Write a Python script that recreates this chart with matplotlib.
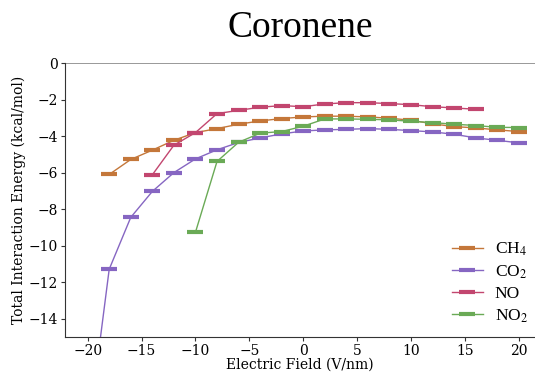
import matplotlib
matplotlib.use("Agg")
import matplotlib.pyplot as plt

plt.rcParams['font.family'] = 'DejaVu Serif'
plt.rcParams['mathtext.fontset'] = 'stix'

# electric field (V/nm)
field_ch4 = [-18, -16, -14, -12, -10, -8, -6, -4, -2, 0, 2, 4, 6, 8, 10, 12, 14, 16, 18, 20]
energy_ch4 = [-6.10, -5.28, -4.77, -4.23, -3.81, -3.59, -3.35, -3.17, -3.04, -2.95,
              -2.91, -2.91, -2.95, -3.02, -3.13, -3.33, -3.48, -3.55, -3.66, -3.75]

field_co2 = [-20, -18, -16, -14, -12, -10, -8, -6, -4, -2, 0, 2, 4, 6, 8, 10, 12, 14, 16, 18, 20]
energy_co2 = [-20.5, -11.29, -8.45, -7.03, -6.00, -5.25, -4.75, -4.35, -4.10, -3.88, -3.72,
              -3.66, -3.63, -3.59, -3.63, -3.70, -3.77, -3.90, -4.10, -4.23, -4.37]

field_no = [-14, -12, -10, -8, -6, -4, -2, 0, 2, 4, 6, 8, 10, 12, 14, 16]
energy_no = [-6.12, -4.50, -3.81, -2.77, -2.59, -2.42, -2.33, -2.39,
             -2.24, -2.17, -2.17, -2.22, -2.28, -2.39, -2.46, -2.53]

field_no2 = [-10, -8, -6, -4, -2, 0, 2, 4, 6, 8, 10, 12, 14, 16, 18, 20]
energy_no2 = [-9.27, -5.39, -4.34, -3.84, -3.75, -3.46, -3.06, -3.06, -3.08, -3.11,
              -3.19, -3.26, -3.35, -3.42, -3.52, -3.53]

series = [
    (field_ch4, energy_ch4, r'CH$_4$', '#c4773a'),
    (field_co2, energy_co2, r'CO$_2$', '#8666c2'),
    (field_no, energy_no, 'NO', '#c2466f'),
    (field_no2, energy_no2, r'NO$_2$', '#6aaa56'),
]

fig = plt.figure(figsize=(5.35, 3.73), dpi=100)
ax = fig.add_axes([0.1215, 0.0965, 0.8785, 0.7345])

for xs, ys, label, color in series:
    ax.plot(xs, ys, color=color, lw=1.0, marker='_', markersize=12,
            markeredgewidth=3, label=label)

ax.axhline(0, color='#888888', lw=1.2)
ax.set_xlim(-22.1, 21.5)
ax.set_ylim(-15, 0)
ax.set_xticks([-20, -15, -10, -5, 0, 5, 10, 15, 20])
ax.set_yticks([-14, -12, -10, -8, -6, -4, -2, 0])

for side in ['top', 'right']:
    ax.spines[side].set_visible(False)
for side in ['left', 'bottom']:
    ax.spines[side].set_color('#333333')
ax.tick_params(colors='#333333', labelcolor='black', labelsize=10, length=3, pad=2)

ax.set_xlabel('Electric Field (V/nm)', fontsize=10, labelpad=0)
ax.set_ylabel('Total Interaction Energy (kcal/mol)', fontsize=10, labelpad=2)
ax.set_title('Coronene', fontsize=27, family='Liberation Serif', pad=19)

leg = ax.legend(loc='lower right', frameon=False, prop={'family': 'Liberation Serif', 'size': 12.5},
                handlelength=1.75, handletextpad=0.7, labelspacing=0.3,
                borderaxespad=0.0, bbox_to_anchor=(1.0, 0.02))

fig.savefig('out.png', dpi=100)
